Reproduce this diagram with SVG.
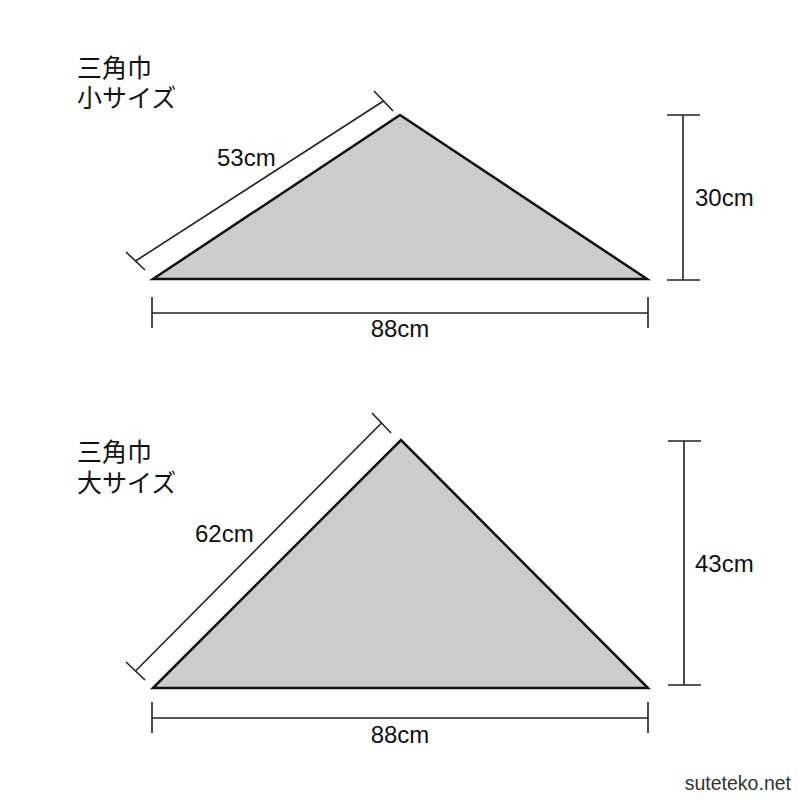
<svg xmlns="http://www.w3.org/2000/svg" width="800" height="800" viewBox="0 0 800 800">
<style>
.tri{fill:#cccccc;stroke:#111;stroke-width:2.5;stroke-linejoin:miter}
.dim{stroke:#222;stroke-width:1.6;fill:none}
.lbl{font-family:"Liberation Sans",Arial,sans-serif;font-size:24px;fill:#111}
.jp{font-family:"Noto Sans CJK JP","Noto Sans",sans-serif;font-size:25px;fill:#111}
.wm{font-family:"Liberation Sans",Arial,sans-serif;font-size:19.5px;fill:#333}
</style>
<rect width="800" height="800" fill="#fff"/>
<g id="small">
  <text class="jp" x="77" y="77">三角巾<tspan x="77" dy="30">小サイズ</tspan></text>
  <polygon class="tri" points="153,279 400,115 647,279"/>
</g>
<g id="small-dims">
  <path class="dim" d="M135.5,261 L383.5,101 M126,252 L145,270 M374,91 L393,111"/>
  <path class="dim" d="M683,115 V280 M667,115 H700 M667,280 H700"/>
  <path class="dim" d="M152,313 H648 M152,297 V328 M648,297 V328"/>
  <text class="lbl" x="217" y="166">53cm</text>
  <text class="lbl" x="695" y="206">30cm</text>
  <text class="lbl" x="400" y="337" text-anchor="middle">88cm</text>
</g>
<g id="large">
  <text class="jp" x="77" y="461">三角巾<tspan x="77" dy="31">大サイズ</tspan></text>
  <polygon class="tri" points="153,688 401,440 648,688"/>
</g>
<g id="large-dims">
  <path class="dim" d="M135.5,671 L381.5,423 M126,662 L145,680 M372,413 L391,433"/>
  <path class="dim" d="M684,441 V685 M668,441 H701 M668,685 H701"/>
  <path class="dim" d="M152,718 H648 M152,702 V733 M648,702 V733"/>
  <text class="lbl" x="195" y="542">62cm</text>
  <text class="lbl" x="695" y="572">43cm</text>
  <text class="lbl" x="400" y="743" text-anchor="middle">88cm</text>
</g>
<text class="wm" x="791" y="790" text-anchor="end">suteteko.net</text>
</svg>
